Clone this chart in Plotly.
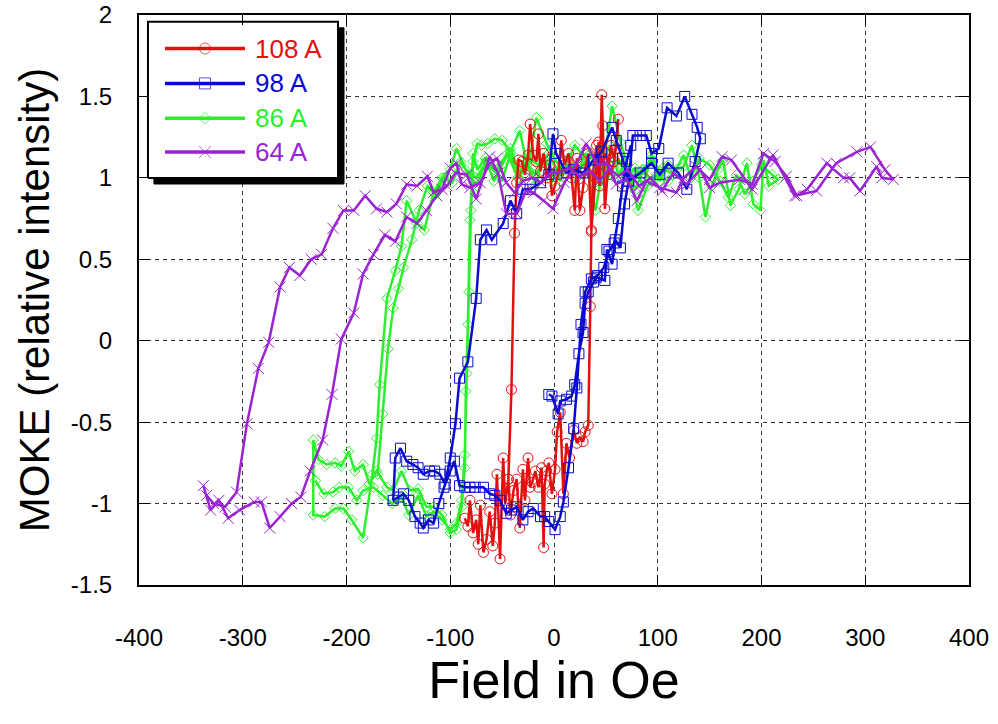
import plotly.graph_objects as go

# ---------------- data ----------------
series_names = ["108 A", "98 A", "86 A", "64 A"]

red_x = [-86,-83,-81,-78,-75,-73,-71,-68,-65,-62,-59,-57,-55,-52,-49,-47,-44,-42,-39,-36,-33,-30,-28,-25,-23,-21,-18,-15,-12,-10,-9,-7,-5,-2,1,3,6,9,12,15,19,22,25,28,30,33,35,36,
         38,41,44,46,47,49,52,55,57,60,62,58,54,50,46,43,40,36,33,30,28,25,22,20,17,14,10,7,4,1,-2,-4,-7,-10,-13,-15,-17,-20,-23,-25,-28,-31,-34,-36,-38,-41,-44]
red_y = [-1.09,-1.14,-0.98,-1.18,-1.10,-1.25,-1.01,-1.30,-1.22,-1.05,-1.26,-1.12,-0.82,-1.34,-0.72,-1.00,-0.85,-1.07,-0.92,-0.85,-1.15,-0.79,-0.98,-0.72,-0.90,-0.87,-0.80,-0.90,-0.78,-1.27,-0.88,-0.80,-0.75,-0.94,-0.79,-0.56,-0.44,-0.94,-0.63,-0.72,-0.55,-0.63,-0.59,-0.62,-0.56,-0.52,0.21,0.67,
         1.05,1.20,0.95,1.51,1.32,0.81,1.05,1.20,1.13,1.18,1.36,1.10,1.02,1.15,1.08,1.22,1.00,0.68,1.15,1.05,0.94,0.80,1.12,0.80,1.00,1.15,1.08,1.23,1.02,0.95,0.89,1.08,1.00,1.15,1.04,1.27,1.10,1.14,1.33,1.14,1.02,1.10,1.11,0.97,0.66,-0.30,-0.85]

blue_x = [-5,-2,4,6,12,17,20,24,28,30,33,38,41,49,51,56,59,64,68,72,76,83,89,94,101,109,118,126,133,138,141,136,128,120,110,102,94,83,72,66,60,56,46,38,28,19,12,2,-1,-5,-13,-23,-30,-36,-42,-49,-60,-65,-71,-75,-83,-91,-95,-100,-105,-110,-115,-120,-126,-131,-136,-142,-148,-153,-155,-150,-145,-140,-134,-129,-126,-121,-116,-111,-106,-100,-96,-91,-86,-81,-76,-68,-62,-57,-52,-46,-41,-36,-30,-25,-20,-13,-9,-5,1,6,9,14,19,22,26,30,36,42,48,53,58,62,66,70,74]
blue_y = [-0.33,-0.34,-0.45,-0.37,-0.36,-0.34,-0.27,-0.08,0.05,0.23,0.30,0.36,0.39,0.37,0.56,0.47,0.62,0.57,0.84,0.98,1.26,1.26,1.26,1.15,1.18,1.43,1.38,1.50,1.39,1.31,1.24,1.10,0.93,1.03,1.09,1.02,1.09,1.03,0.98,1.12,1.23,1.31,1.16,1.11,1.03,1.05,1.03,1.15,1.27,1.02,0.97,0.93,0.93,0.78,0.86,0.72,0.62,0.68,0.62,0.26,-0.13,-0.23,-0.51,-0.72,-0.88,-0.82,-0.80,-0.80,-0.82,-0.78,-0.76,-0.74,-0.66,-0.72,-0.98,-0.96,-0.94,-0.98,-1.08,-1.12,-1.15,-1.10,-1.12,-1.00,-0.90,-0.80,-0.74,-0.89,-0.90,-0.90,-0.90,-0.90,-0.94,-0.95,-0.98,-1.06,-1.04,-1.02,-1.10,-1.05,-1.03,-1.08,-1.08,-1.11,-1.16,-1.08,-0.99,-0.78,-0.54,-0.29,0.10,0.30,0.38,0.40,0.45,0.55,0.60,0.75,0.95,1.10,1.20]

green_x = [-230,-222,-213,-207,-198,-190,-184,-174,-165,-156,-147,-140,-131,-123,-116,-108,-100,-94,-89,-86,-84,-82,-80,-78,-74,-70,-64,-57,-50,-42,-33,-25,-17,-7,2,10,20,30,40,48,56,64,72,81,90,99,110,118,125,133,140,146,152,158,163,170,178,186,192,199,202,207,216,
           210,200,192,184,176,168,160,150,140,132,125,115,105,95,85,75,65,55,45,35,25,15,5,-5,-15,-25,-35,-45,-55,-65,-75,-85,-94,-100,-108,-116,-125,-132,-142,-147,-153,-161,-168,-171,-175,-184,-195,-203,-211,-221,-232,
           -232,-227,-219,-211,-205,-198,-192,-184,-178,-171,-161,-155,-147,-139,-131,-123,-116,-108,-100,-94,-89,-86,-85,-83,-81,-78,-74,-66,-58,-50,-42,-34,-26,-18,-10,-2,6,14,22,30,38,46,54,62,70,78,86,94,102,110,102,94,86,78,70,62,54,46,38,30,22,14,6,-2,-10,-18,-26,-34,-42,-50,-58,-66,-74,-82,-90,-98,-106,-114,-122,-130,-137,-145,-150,-155,-160,-165,-170,-173]
green_y = [-0.86,-0.94,-0.93,-0.90,-0.90,-0.98,-0.92,-0.90,-0.95,-1.00,-0.96,-1.07,-0.95,-1.08,-1.05,-1.10,-1.16,-1.12,-0.98,-0.70,-0.20,0.30,0.80,1.10,1.21,1.20,1.21,1.24,1.23,1.16,1.29,1.05,1.37,1.21,1.10,1.05,1.20,1.12,0.80,1.10,1.44,1.22,1.05,0.80,0.95,1.02,0.98,1.05,1.07,1.20,1.00,0.76,0.95,1.05,1.11,0.83,0.93,1.09,0.84,0.80,1.11,0.95,0.99,
           1.02,1.08,0.98,0.90,1.02,0.88,0.98,1.08,1.12,1.00,1.14,1.02,1.06,0.98,1.05,1.00,1.08,1.10,1.02,1.15,1.05,1.10,1.02,1.15,1.08,1.12,1.00,1.15,1.05,1.10,1.00,1.05,1.18,1.05,1.00,0.91,0.68,0.72,0.86,0.58,0.43,0.26,-0.27,-0.60,-0.82,-1.21,-1.10,-1.03,-1.03,-1.08,-1.07,
           -0.61,-0.73,-0.76,-0.75,-0.77,-0.68,-0.80,-0.76,-0.88,-0.80,-0.90,-0.92,-0.80,-0.92,-0.91,-1.02,-1.02,-1.07,-1.18,-1.16,-1.02,-0.78,-0.31,0.10,0.74,1.15,1.05,1.12,0.98,1.08,1.18,1.04,1.10,0.96,1.12,1.05,0.98,1.10,1.02,1.15,0.96,1.08,1.20,1.02,1.10,0.92,1.05,1.12,0.98,1.08,1.04,1.14,0.95,1.06,1.00,1.12,1.02,0.96,1.10,1.04,1.00,1.12,1.05,0.98,1.10,1.02,1.08,1.00,1.15,0.98,1.05,1.10,0.95,1.02,1.10,0.97,1.00,0.90,0.95,0.80,0.62,0.45,0.32,0.20,-0.05,-0.45,-0.82]

purple_x = [-338,-331,-323,-314,-303,-289,-282,-274,-264,-253,-244,-235,-223,-214,-205,-193,-184,-174,-163,-153,-142,-132,-123,-113,-103,-95,-84,-75,-62,-54,-46,-36,-27,-20,-10,-1,10,22,31,42,51,60,70,80,89,102,118,125,137,150,162,171,191,211,232,253,272,292,305,319,327,
            316,311,295,285,279,263,244,234,224,213,202,191,179,160,150,141,128,115,104,93,82,71,62,53,44,35,25,15,4,-4,-12,-21,-30,-38,-46,-55,-62,-71,-81,-89,-94,-100,-108,-116,-122,-132,-142,-152,-161,-171,-182,-193,-203,-213,-224,-234,-245,-255,-264,-275,-285,-296,-306,-317,-328,-335]
purple_y = [-0.89,-1.04,-0.98,-1.09,-1.04,-0.99,-0.99,-1.15,-1.08,-1.00,-0.96,-0.80,-0.61,-0.33,0.01,0.17,0.41,0.53,0.65,0.61,0.76,0.72,0.80,0.89,0.95,1.03,1.02,0.87,1.13,1.03,0.78,0.78,0.92,0.91,0.86,0.81,0.97,1.09,1.21,1.08,1.09,0.96,0.99,0.86,0.98,0.94,0.91,1.00,1.07,0.99,1.13,1.11,0.93,1.14,0.89,0.92,1.09,1.16,1.19,1.05,0.99,
            1.00,1.07,0.92,1.00,1.00,1.09,0.93,0.89,1.01,1.10,1.15,0.96,0.99,0.97,0.94,1.05,0.96,1.03,0.92,1.00,0.95,1.05,1.01,1.06,0.98,1.04,1.01,1.06,1.03,1.03,0.97,1.00,0.98,0.91,0.97,1.12,1.09,0.97,0.94,0.96,1.09,1.06,0.93,0.91,1.01,0.95,0.96,0.84,0.79,0.81,0.89,0.80,0.80,0.69,0.53,0.50,0.40,0.45,0.33,-0.01,-0.17,-0.51,-0.93,-1.02,-1.00,-0.95]

x_tick_vals = [-400, -300, -200, -100, 0, 100, 200, 300, 400]
x_tick_text = ["-400", "-300", "-200", "-100", "0", "100", "200", "300", "400"]
y_tick_vals = [-1.5, -1, -0.5, 0, 0.5, 1, 1.5, 2]
y_tick_text = ["-1.5", "-1", "-0.5", "0", "0.5", "1", "1.5", "2"]

# ---------------- styles ----------------
FONT = "Liberation Sans, Arial, Helvetica, sans-serif"
colors = {"108 A": "#e31010", "98 A": "#0a0ad0", "86 A": "#2cf02c", "64 A": "#9a24d2"}
symbols = {"108 A": "circle-open", "98 A": "square-open", "86 A": "diamond-open", "64 A": "x-thin-open"}
msize = {"108 A": 10, "98 A": 10, "86 A": 8, "64 A": 11}
data = {"108 A": (red_x, red_y), "98 A": (blue_x, blue_y), "86 A": (green_x, green_y), "64 A": (purple_x, purple_y)}

fig = go.Figure()
for name in ["86 A", "108 A", "98 A", "64 A"]:
    xs, ys = data[name]
    fig.add_trace(go.Scatter(
        x=xs, y=ys, mode="lines+markers", name=name, showlegend=False,
        line=dict(color=colors[name], width=2.5),
        marker=dict(symbol=symbols[name], size=msize[name], color=colors[name],
                    line=dict(color=colors[name], width=1)),
    ))

# ---------------- custom legend (overlay axes in 0..1 units of the plot area) ----------------
box_x0, box_x1, box_y0, box_y1 = 0.0108, 0.2398, 0.7140, 0.9880
sh = (0.0072, -0.0105)
fig.add_trace(go.Scatter(
    x=[box_x0 + sh[0], box_x1 + sh[0], box_x1 + sh[0], box_x0 + sh[0], box_x0 + sh[0]],
    y=[box_y0 + sh[1], box_y0 + sh[1], box_y1 + sh[1], box_y1 + sh[1], box_y0 + sh[1]],
    xaxis="x2", yaxis="y2", mode="lines", fill="toself", fillcolor="black",
    line=dict(color="black", width=1), showlegend=False, hoverinfo="skip"))
fig.add_trace(go.Scatter(
    x=[box_x0, box_x1, box_x1, box_x0, box_x0],
    y=[box_y0, box_y0, box_y1, box_y1, box_y0],
    xaxis="x2", yaxis="y2", mode="lines", fill="toself", fillcolor="white",
    line=dict(color="black", width=2), showlegend=False, hoverinfo="skip"))

row_y = [0.9412, 0.8800, 0.8188, 0.7595]
lx0, lxm, lx1, ltext = 0.0313, 0.0795, 0.1277, 0.1373
annotations = []
for name, ry in zip(series_names, row_y):
    fig.add_trace(go.Scatter(
        x=[lx0, lxm, lx1], y=[ry, ry, ry], xaxis="x2", yaxis="y2",
        mode="lines+markers", showlegend=False, hoverinfo="skip",
        line=dict(color=colors[name], width=3.5),
        marker=dict(symbol=symbols[name], size=[0, msize[name] + 1, 0], color=colors[name],
                    line=dict(color=colors[name], width=1)),
    ))
    annotations.append(dict(x=ltext, y=ry, xref="x2", yref="y2", text=name, showarrow=False,
                            xanchor="left", yanchor="middle",
                            font=dict(family=FONT, size=26, color=colors[name])))

axis_common = dict(
    showline=True, linecolor="black", linewidth=2, mirror="ticks",
    ticks="inside", ticklen=10, tickwidth=1, tickcolor="black",
    showgrid=True, gridcolor="#333333", gridwidth=1, griddash="4px,4px",
    zeroline=False, ticklabeloverflow="allow", automargin=False,
    tickfont=dict(family=FONT, size=24, color="black"),
)

fig.update_layout(
    width=998, height=724, autosize=False,
    margin=dict(l=139, r=29, t=15, b=139, pad=0, autoexpand=False),
    paper_bgcolor="white", plot_bgcolor="white",
    font=dict(family=FONT, color="black"),
    xaxis=dict(range=[-400, 400], tickvals=x_tick_vals, ticktext=x_tick_text,
               ticklabelstandoff=30,
               title=dict(text="Field in Oe", font=dict(family=FONT, size=52), standoff=10),
               **axis_common),
    yaxis=dict(range=[-1.5, 2], tickvals=y_tick_vals, ticktext=y_tick_text,
               ticklabelstandoff=20,
               title=dict(text="MOKE (relative intensity)", font=dict(family=FONT, size=42), standoff=8),
               **axis_common),
    xaxis2=dict(overlaying="x", range=[0, 1], visible=False, fixedrange=True),
    yaxis2=dict(overlaying="y", range=[0, 1], visible=False, fixedrange=True),
    annotations=annotations,
    showlegend=False,
)

fig.write_html("out.html")
